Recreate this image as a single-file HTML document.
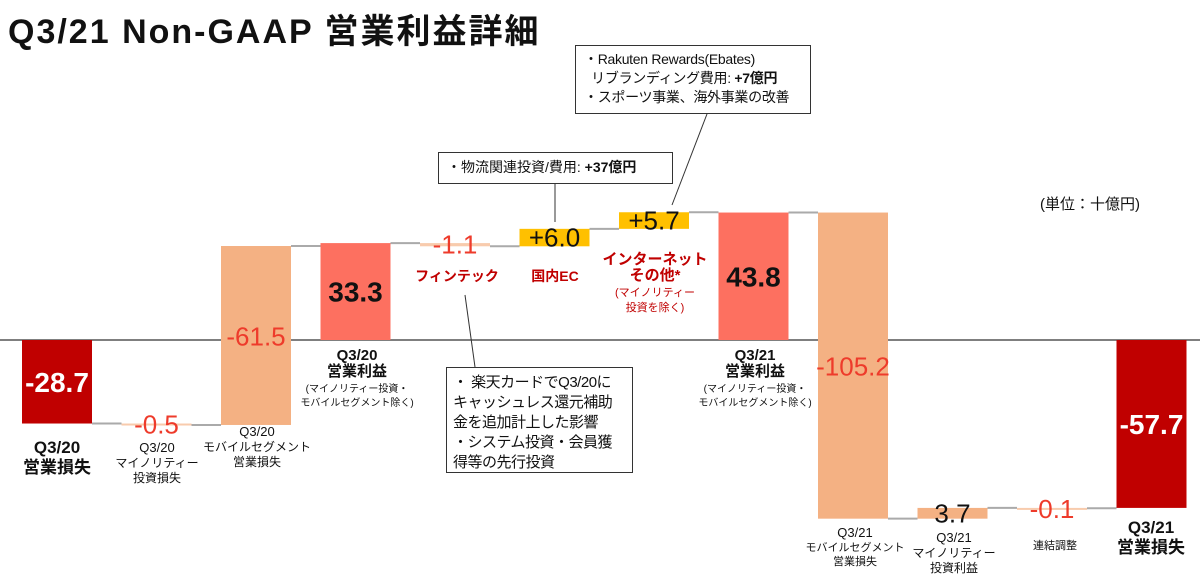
<!DOCTYPE html>
<html><head><meta charset="utf-8"><style>
body{margin:0;width:1200px;height:579px;background:#fff;font-family:"Liberation Sans","Noto Sans CJK JP",sans-serif;overflow:hidden;position:relative}
svg{position:absolute;left:0;top:0}
.box{position:absolute;border:1.5px solid #333;background:#fff;font-size:14px;line-height:19px;color:#111;box-sizing:border-box;white-space:nowrap}
</style></head><body>
<div style="position:absolute;left:8px;top:4px;font-size:34px;font-weight:bold;color:#111;letter-spacing:2px">Q3/21 Non-GAAP 営業利益詳細</div>
<div style="position:absolute;left:1040px;top:193px;font-size:15px;color:#111">(単位：十億円)</div>
<svg id="chart" width="1200" height="579"></svg>
<div class="box" style="left:575px;top:45px;width:236px;height:69px;padding:4px 8px;letter-spacing:-0.3px">・Rakuten Rewards(Ebates)<br>&nbsp;&nbsp;リブランディング費用: <b>+7億円</b><br>・スポーツ事業、海外事業の改善</div>
<div class="box" style="left:438px;top:152px;width:235px;height:32px;padding:5px 8px">・物流関連投資/費用: <b>+37億円</b></div>
<div class="box" style="left:446px;top:367px;width:187px;height:106px;padding:5px 6px;font-size:15px;line-height:20px;letter-spacing:-0.5px">・ 楽天カードでQ3/20に<br>キャッシュレス還元補助<br>金を追加計上した影響<br>・システム投資・会員獲<br>得等の先行投資</div>
<script>
const categories=["Q3/20営業損失","マイノリティー投資損失","モバイルセグメント営業損失","Q3/20営業利益","フィンテック","国内EC","インターネットその他","Q3/21営業利益","モバイルセグメント営業損失21","マイノリティー投資利益","連結調整","Q3/21営業損失"];
const values=[-28.7,-0.5,61.5,33.3,-1.1,6.0,5.7,43.8,-105.2,3.7,-0.1,-57.7];
const isTotal=[true,false,false,true,false,false,false,true,false,false,false,true];
const valueLabels=["-28.7","-0.5","-61.5","33.3","-1.1","+6.0","+5.7","43.8","-105.2","3.7","-0.1","-57.7"];
const colors=["#c00000","#f8cbad","#f4b183","#fd7060","#f8cbad","#ffc000","#ffc000","#fd7060","#f4b183","#f4b183","#f8cbad","#c00000"];
const labelColors=["#fff","#ee3b2b","#ee3b2b","#111","#ee3b2b","#111","#111","#111","#ee3b2b","#111","#ee3b2b","#fff"];
const NS="http://www.w3.org/2000/svg";
const svg=document.getElementById('chart');
const y0=340,k=2.91;
const y=v=>y0-v*k;
const cx=i=>57+i*99.5;
const bw=70;
function mk(t,a){const e=document.createElementNS(NS,t);for(const n in a)e.setAttribute(n,a[n]);svg.appendChild(e);return e;}
const base=mk('line',{x1:0,x2:1200,y1:y0,y2:y0,stroke:'#555','stroke-width':1.5});


let run=0;
values.forEach((v,i)=>{
  let a,b;
  if(isTotal[i]){a=0;b=v;}else{a=run;b=run+v;}
  run=b;
  const top=Math.min(y(a),y(b)),h=Math.max(Math.abs(y(a)-y(b)),2);
  const r=mk('rect',{x:cx(i)-bw/2,y:top,width:bw,height:h,fill:colors[i]});
  
  
  if(i<values.length-1){
    const l=mk('line',{x1:cx(i)+bw/2,x2:cx(i+1)-bw/2,y1:y(b),y2:y(b),stroke:'#aaa','stroke-width':2});
    
    
  }
  const small=h<25;
  const ty=small?top+h/2+9:top+h/2+10;
  const big=isTotal[i];
  const t=mk('text',{x:cx(i),y:ty,'text-anchor':'middle','font-size':big?28:26,'font-weight':big?'bold':'normal',fill:labelColors[i]});
  t.textContent=valueLabels[i];
  
  
});
const cats=[
 [57,453,[["Q3/20",17,1,"#111"],["営業損失",17,1,"#111"]],[20]],
 [157,452,[["Q3/20",13,0,"#111"],["マイノリティー",12,0,"#111"],["投資損失",12,0,"#111"]],[15,15]],
 [257,436,[["Q3/20",13,0,"#111"],["モバイルセグメント",12,0,"#111"],["営業損失",12,0,"#111"]],[15,15]],
 [357,360,[["Q3/20",15,1,"#111"],["営業利益",15,1,"#111"],["(マイノリティー投資・",10,0,"#111"],["モバイルセグメント除く)",10,0,"#111"]],[16,16,14]],
 [457,281,[["フィンテック",14,1,"#c00000"]],[16]],
 [555,281,[["国内EC",14,1,"#c00000"]],[16]],
 [655,264,[["インターネット",15,1,"#c00000"],["その他*",15,1,"#c00000"],["(マイノリティー",11,0,"#c00000"],["投資を除く)",11,0,"#c00000"]],[16,16,15]],
 [755,360,[["Q3/21",15,1,"#111"],["営業利益",15,1,"#111"],["(マイノリティー投資・",10,0,"#111"],["モバイルセグメント除く)",10,0,"#111"]],[16,16,14]],
 [855,537,[["Q3/21",13,0,"#111"],["モバイルセグメント",11,0,"#111"],["営業損失",11,0,"#111"]],[14,14]],
 [954,542,[["Q3/21",13,0,"#111"],["マイノリティー",12,0,"#111"],["投資利益",12,0,"#111"]],[15,15]],
 [1055,549,[["連結調整",11,0,"#111"]],[14]],
 [1151,533,[["Q3/21",17,1,"#111"],["営業損失",17,1,"#111"]],[20]]];
cats.forEach((c,i)=>{
  let yy=c[1];
  c[2].forEach((ln,j)=>{
    const t=mk('text',{x:c[0],y:yy,'text-anchor':'middle','font-size':ln[1],'font-weight':ln[2]?'bold':'normal',fill:ln[3]});
    t.textContent=ln[0];
    
    
    yy+=c[3][j]||14;
  });
});
[[465,295,475,367],[555,184,555,222],[707,114,672,205]].forEach((p,i)=>{
  const l=mk('line',{x1:p[0],y1:p[1],x2:p[2],y2:p[3],stroke:'#333','stroke-width':1});
  
  
});
</script>
</body></html>
